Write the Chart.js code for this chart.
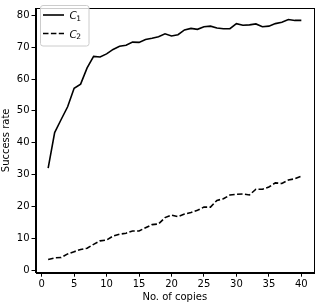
<!DOCTYPE html>
<html><head><meta charset="utf-8">
<script src="https://cdn.jsdelivr.net/npm/chart.js@4.4.0/dist/chart.umd.min.js"></script>
<style>html,body{margin:0;padding:0;background:#fff;}#wrap{width:315px;height:303px;}</style>
</head><body><div id="wrap"><canvas id="c" width="315" height="303"></canvas></div>
<script>
const copies = Array.from({length:40},(_,i)=>i+1);
const c1 = [32.0,43.2,47.3,51.3,57.1,58.4,63.5,67.1,66.9,67.9,69.3,70.3,70.6,71.6,71.5,72.4,72.8,73.3,74.2,73.5,73.9,75.4,75.9,75.6,76.4,76.6,76.0,75.8,75.8,77.4,76.9,77.0,77.3,76.4,76.6,77.4,77.8,78.7,78.4,78.4];
const c2 = [3.35,3.85,3.96,5.1,5.8,6.5,6.9,8.1,9.2,9.45,10.7,11.3,11.6,12.3,12.3,13.3,14.3,14.5,16.5,17.3,16.8,17.6,18.1,18.8,19.8,19.8,21.9,22.4,23.6,23.8,23.9,23.6,25.4,25.4,26.1,27.4,27.2,28.3,28.7,29.5];
const seriesNames = ['C','C'];
const seriesSubs = ['1','2'];
const xTicks = [0,5,10,15,20,25,30,35,40];
const yTicks = [0,10,20,30,40,50,60,70,80];

const FONT = 'DejaVu Sans';
const framePlugin = {
  id:'frame',
  afterDraw(chart){
    const {ctx, chartArea:a} = chart;
    ctx.save();
    ctx.strokeStyle='#000'; ctx.lineWidth=1;
    ctx.strokeRect(Math.round(a.left)+0.5, Math.round(a.top)+0.5, Math.round(a.right-a.left)-1, Math.round(a.bottom-a.top));
    // legend
    const lx=40.5, ly=5.5, lw=48.5, lh=40.5, r=2.5;
    ctx.globalAlpha=0.8; ctx.fillStyle='#fff';
    ctx.beginPath(); ctx.roundRect(lx,ly,lw,lh,r); ctx.fill();
    ctx.globalAlpha=1; ctx.strokeStyle='#cccccc'; ctx.lineWidth=1;
    ctx.beginPath(); ctx.roundRect(lx,ly,lw,lh,r); ctx.stroke();
    const rows=[15,33.5];
    chart.data.datasets.forEach((ds,i)=>{
      ctx.strokeStyle='#000'; ctx.lineWidth=1.6;
      ctx.setLineDash(ds.borderDash||[]);
      ctx.beginPath(); ctx.moveTo(43,rows[i]); ctx.lineTo(64,rows[i]); ctx.stroke();
      ctx.setLineDash([]);
      ctx.fillStyle='#000'; ctx.textBaseline='alphabetic'; ctx.textAlign='left';
      ctx.font='italic 10.5px "'+FONT+'"';
      ctx.fillText(seriesNames[i], 69.5, rows[i]+4);
      const w = ctx.measureText(seriesNames[i]).width;
      ctx.font='7.5px "'+FONT+'"';
      ctx.fillText(seriesSubs[i], 69.5+w-0.5, rows[i]+5.5);
    });
    ctx.restore();
  }
};

new Chart(document.getElementById('c'),{
  type:'line',
  data:{datasets:[
    {label:seriesNames[0]+'\u2081', data:copies.map((x,i)=>({x,y:c1[i]})), borderColor:'#000', borderWidth:1.6, pointRadius:0, tension:0, fill:false},
    {label:seriesNames[1]+'\u2082', data:copies.map((x,i)=>({x,y:c2[i]})), borderColor:'#000', borderWidth:1.6, borderDash:[5.5,2.4], pointRadius:0, tension:0, fill:false}
  ]},
  options:{
    responsive:false, animation:false, devicePixelRatio:1,
    layout:{padding:{top:1,right:1,left:0,bottom:0}},
    plugins:{legend:{display:false}, tooltip:{enabled:false}},
    scales:{
      x:{type:'linear', min:-0.95, max:41.95,
        afterBuildTicks(s){ s.ticks = xTicks.map(v=>({value:v})); },
        afterFit(s){ s.height = 30.3; },
        grid:{display:true, drawOnChartArea:false, drawTicks:true, tickLength:4, color:'#000'},
        border:{display:true, color:'#000'},
        ticks:{color:'#000', font:{family:FONT,size:10}, padding:2, maxRotation:0, autoSkip:false},
        title:{display:true, text:'No. of copies', color:'#000', font:{family:FONT,size:10}, padding:{top:0,bottom:0}}
      },
      y:{type:'linear', min:-0.8, max:82.3,
        afterBuildTicks(s){ s.ticks = yTicks.map(v=>({value:v})); },
        afterFit(s){ s.width = 35.5; },
        grid:{display:true, drawOnChartArea:false, drawTicks:true, tickLength:4, color:'#000'},
        border:{display:true, color:'#000'},
        ticks:{color:'#000', font:{family:FONT,size:10}, padding:2, autoSkip:false},
        title:{display:true, text:'Success rate', color:'#000', font:{family:FONT,size:10}, padding:{top:0,bottom:0}}
      }
    }
  },
  plugins:[framePlugin]
});
</script></body></html>
